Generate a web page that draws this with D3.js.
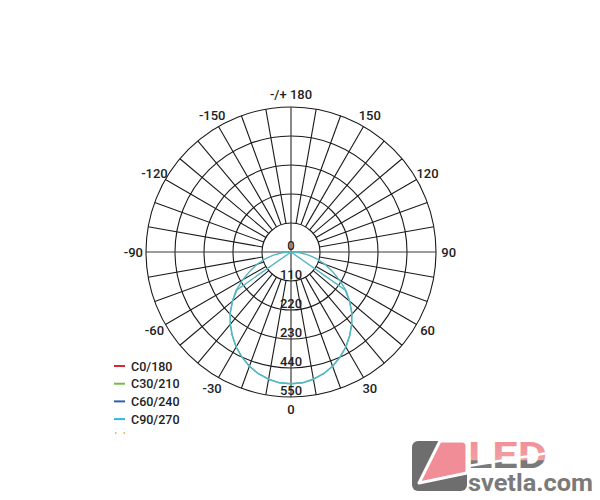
<!DOCTYPE html>
<html>
<head>
<meta charset="utf-8">
<script src="https://cdn.jsdelivr.net/npm/d3@7"></script>
<style>
  html, body { margin: 0; padding: 0; background: #fff; }
  svg { display: block; }
  text { font-family: Roboto, "Liberation Sans", sans-serif; }
</style>
</head>
<body>
<svg id="chart" width="600" height="500"></svg>
<script>
// ---------- data ----------
const ringValues = [110, 220, 330, 440, 550];
const ringLabels = ["110", "220", "230", "440", "550"];
const maxValue = 550;

const angleTickValues = [-150, -120, -90, -60, -30, 0, 30, 60, 90, 120, 150, 180];
const angleTickLabels = ["-150", "-120", "-90", "-60", "-30", "0", "30", "60", "90", "120", "150", "-/+ 180"];

const seriesNames = ["C0/180", "C30/210", "C60/240", "C90/270"];
const seriesColors = ["#d42a30", "#6cbf4a", "#2d5fa6", "#2fb6e6"];

// C90/270 curve (outer, near-lambertian)
const c90Angles = [-90, -85, -80, -75, -70, -65, -60, -55, -50, -45, -40, -35, -30, -25, -20, -15, -10, -5,
                   0, 5, 10, 15, 20, 25, 30, 35, 40, 45, 50, 55, 60, 65, 70, 75, 80, 85, 90];
const c90Values = [0, 34, 68, 102, 138, 172, 212, 255, 290, 326, 358, 388, 416, 440, 461, 478, 490, 498,
                   500, 498, 490, 478, 461, 440, 416, 388, 358, 326, 290, 255, 212, 172, 138, 102, 68, 34, 0];
// second overlapping trace (cut off at 55°)
const c270Angles = [-90, -55, -50, -45, -40, -35, -30, -25, -20, -15, -10, -5,
                    0, 5, 10, 15, 20, 25, 30, 35, 40, 45, 50, 55, 90];
const c270Values = [0, 250, 290, 326, 358, 388, 416, 440, 461, 478, 490, 498,
                    500, 498, 490, 478, 461, 440, 416, 388, 358, 326, 290, 250, 0];
const curveColor = "#56b7c1";

// ---------- layout ----------
const svg = d3.select("#chart");
const cx = 291, cy = 252;
const rScale = d3.scaleLinear().domain([0, maxValue]).range([0, 145]);
// 0° points down, positive angles to the right
const aScale = d3.scaleLinear().domain([-180, 180]).range([2 * Math.PI, 0]);
const px = (ang, v) => cx + rScale(v) * Math.sin(aScale(ang));
const py = (ang, v) => cy - rScale(v) * Math.cos(aScale(ang));

const g = svg.append("g");

// rings
g.selectAll("circle.ring").data(ringValues).enter().append("circle")
  .attr("class", "ring")
  .attr("cx", cx).attr("cy", cy)
  .attr("r", d => rScale(d))
  .attr("fill", "none").attr("stroke", "#1a1a1a").attr("stroke-width", 1.1);

// radial lines every 10°
const spokes = d3.range(-170, 181, 10);
g.selectAll("line.spoke").data(spokes.filter(a => a % 90 !== 0)).enter().append("line")
  .attr("class", "spoke")
  .attr("x1", a => px(a, ringValues[0])).attr("y1", a => py(a, ringValues[0]))
  .attr("x2", a => px(a, maxValue)).attr("y2", a => py(a, maxValue))
  .attr("stroke", "#1a1a1a").attr("stroke-width", 1.1);

// main axes through centre
g.selectAll("line.axis").data([0, 90, 180, -90]).enter().append("line")
  .attr("class", "axis")
  .attr("x1", cx).attr("y1", cy)
  .attr("x2", a => px(a, maxValue)).attr("y2", a => py(a, maxValue))
  .attr("stroke", "#3a3a3a").attr("stroke-width", 1.2);

// curves
const radial = d3.lineRadial()
  .angle(d => aScale(d[0]))
  .radius(d => rScale(d[1]))
  .curve(d3.curveLinear);

const curves = [
  d3.zip(c270Angles, c270Values),
  d3.zip(c90Angles, c90Values)
];
g.append("g").attr("transform", `translate(${cx},${cy})`)
  .selectAll("path").data(curves).enter().append("path")
  .attr("d", radial)
  .attr("fill", "none")
  .attr("stroke", curveColor)
  .attr("stroke-width", 1.4)
  .attr("stroke-linejoin", "round");

const labelFont = 13;
// ring labels (along downward axis)
g.selectAll("text.rl").data([0].concat(ringValues)).enter().append("text")
  .attr("class", "rl")
  .attr("x", cx)
  .attr("y", d => cy + rScale(d) - 7)
  .attr("text-anchor", "middle")
  .attr("dominant-baseline", "central")
  .attr("font-size", labelFont).attr("font-weight", 500).attr("fill", "#222")
  .text((d, i) => i === 0 ? "0" : ringLabels[i - 1]);

// angle labels
const labelR = 598;
g.selectAll("text.al").data(angleTickValues).enter().append("text")
  .attr("class", "al")
  .attr("x", a => px(a, labelR))
  .attr("y", a => py(a, labelR))
  .attr("text-anchor", "middle")
  .attr("dominant-baseline", "central")
  .attr("font-size", labelFont).attr("font-weight", 500).attr("fill", "#222")
  .text((a, i) => angleTickLabels[i]);

// legend
const legend = svg.append("g").attr("transform", "translate(114,366)");
const li = legend.selectAll("g").data(seriesNames).enter().append("g")
  .attr("transform", (d, i) => `translate(0,${i * 17.7})`);
li.append("line").attr("x1", 0).attr("x2", 11).attr("y1", 0).attr("y2", 0)
  .attr("stroke", (d, i) => seriesColors[i]).attr("stroke-width", 2);
li.append("text").attr("x", 17).attr("y", 0)
  .attr("dominant-baseline", "central")
  .attr("font-size", 12.5).attr("font-weight", 500).attr("fill", "#222")
  .text(d => d);
// partially visible fifth entry
legend.append("line").attr("x1", 1).attr("x2", 12).attr("y1", 67).attr("y2", 67)
  .attr("stroke", "#f0a030").attr("stroke-width", 1.5).attr("stroke-dasharray", "1.5,7");

// watermark logo
const logo = svg.append("g");
const defs = svg.append("defs");
const grad = defs.append("linearGradient").attr("id", "ledgrad")
  .attr("x1", 0).attr("y1", 0).attr("x2", 0).attr("y2", 1);
grad.append("stop").attr("offset", "0%").attr("stop-color", "#f08b95");
grad.append("stop").attr("offset", "60%").attr("stop-color", "#f0a0a6");
grad.append("stop").attr("offset", "61%").attr("stop-color", "#7a7a7a");
grad.append("stop").attr("offset", "100%").attr("stop-color", "#7a7a7a");
logo.append("rect").attr("x", 412).attr("y", 441).attr("width", 55).attr("height", 50)
  .attr("rx", 6).attr("fill", "#6e6e6e");
logo.append("path")
  .attr("d", "M440,441 L462,441 Q467,441 467,446 L467,473 L419,483 Z")
  .attr("fill", "#f08d96").attr("stroke", "#fff").attr("stroke-width", 3)
  .attr("stroke-linejoin", "round");
logo.append("text").attr("x", 468).attr("y", 468)
  .attr("font-family", "'Liberation Sans', Arial, sans-serif")
  .attr("font-size", 36).attr("font-weight", 700)
  .attr("textLength", 79).attr("lengthAdjust", "spacingAndGlyphs")
  .attr("fill", "url(#ledgrad)")
  .text("LED");
logo.append("path")
  .attr("d", "M468,466 L548,453")
  .attr("stroke", "#fff").attr("stroke-width", 2.5);
logo.append("text").attr("x", 468).attr("y", 491)
  .attr("font-family", "'Liberation Sans', Arial, sans-serif")
  .attr("font-size", 23).attr("font-weight", 700)
  .attr("textLength", 125).attr("lengthAdjust", "spacingAndGlyphs")
  .attr("fill", "#7a7a7a")
  .text("svetla.com");
</script>
</body>
</html>
